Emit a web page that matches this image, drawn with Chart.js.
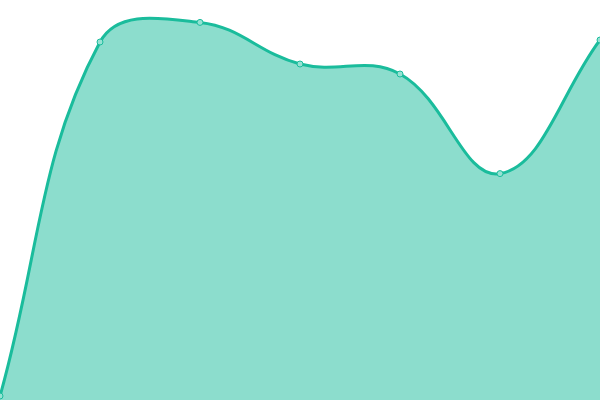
<!DOCTYPE html>
<html>
<head>
<meta charset="utf-8">
<script src="https://cdn.jsdelivr.net/npm/chart.js@4"></script>
<style>
  html, body { margin: 0; padding: 0; background: #fff; }
  #wrap { width: 600px; height: 400px; }
</style>
</head>
<body>
<div id="wrap"><canvas id="myChart"></canvas></div>
<script>
const labels = ["A", "B", "C", "D", "E", "F", "G"];
const values = [1, 89.5, 94.4, 84, 81.5, 56.6, 90];

const canva = document.getElementById("myChart");

var myChart = new Chart(canva.getContext("2d"), {
  type: "line",
  data: {
    labels: labels,
    datasets: [
      {
        data: values,
        fill: true,
        backgroundColor: "rgba(26,188,156,0.5)",
        borderColor: "#1abc9c",
        borderWidth: 3,
        tension: 0.4,
        pointRadius: 3,
        pointBackgroundColor: "rgba(150,226,211,1)",
        pointBorderColor: "#1abc9c",
        pointBorderWidth: 1,
      },
    ],
  },
  options: {
    responsive: true,
    maintainAspectRatio: false,
    animation: false,
    layout: { autoPadding: false, padding: 0 },
    plugins: {
      legend: { display: false },
      tooltip: { enabled: false },
    },
    scales: {
      x: { display: false },
      y: { display: false, min: 0, max: 100 },
    },
  },
});
</script>
</body>
</html>
